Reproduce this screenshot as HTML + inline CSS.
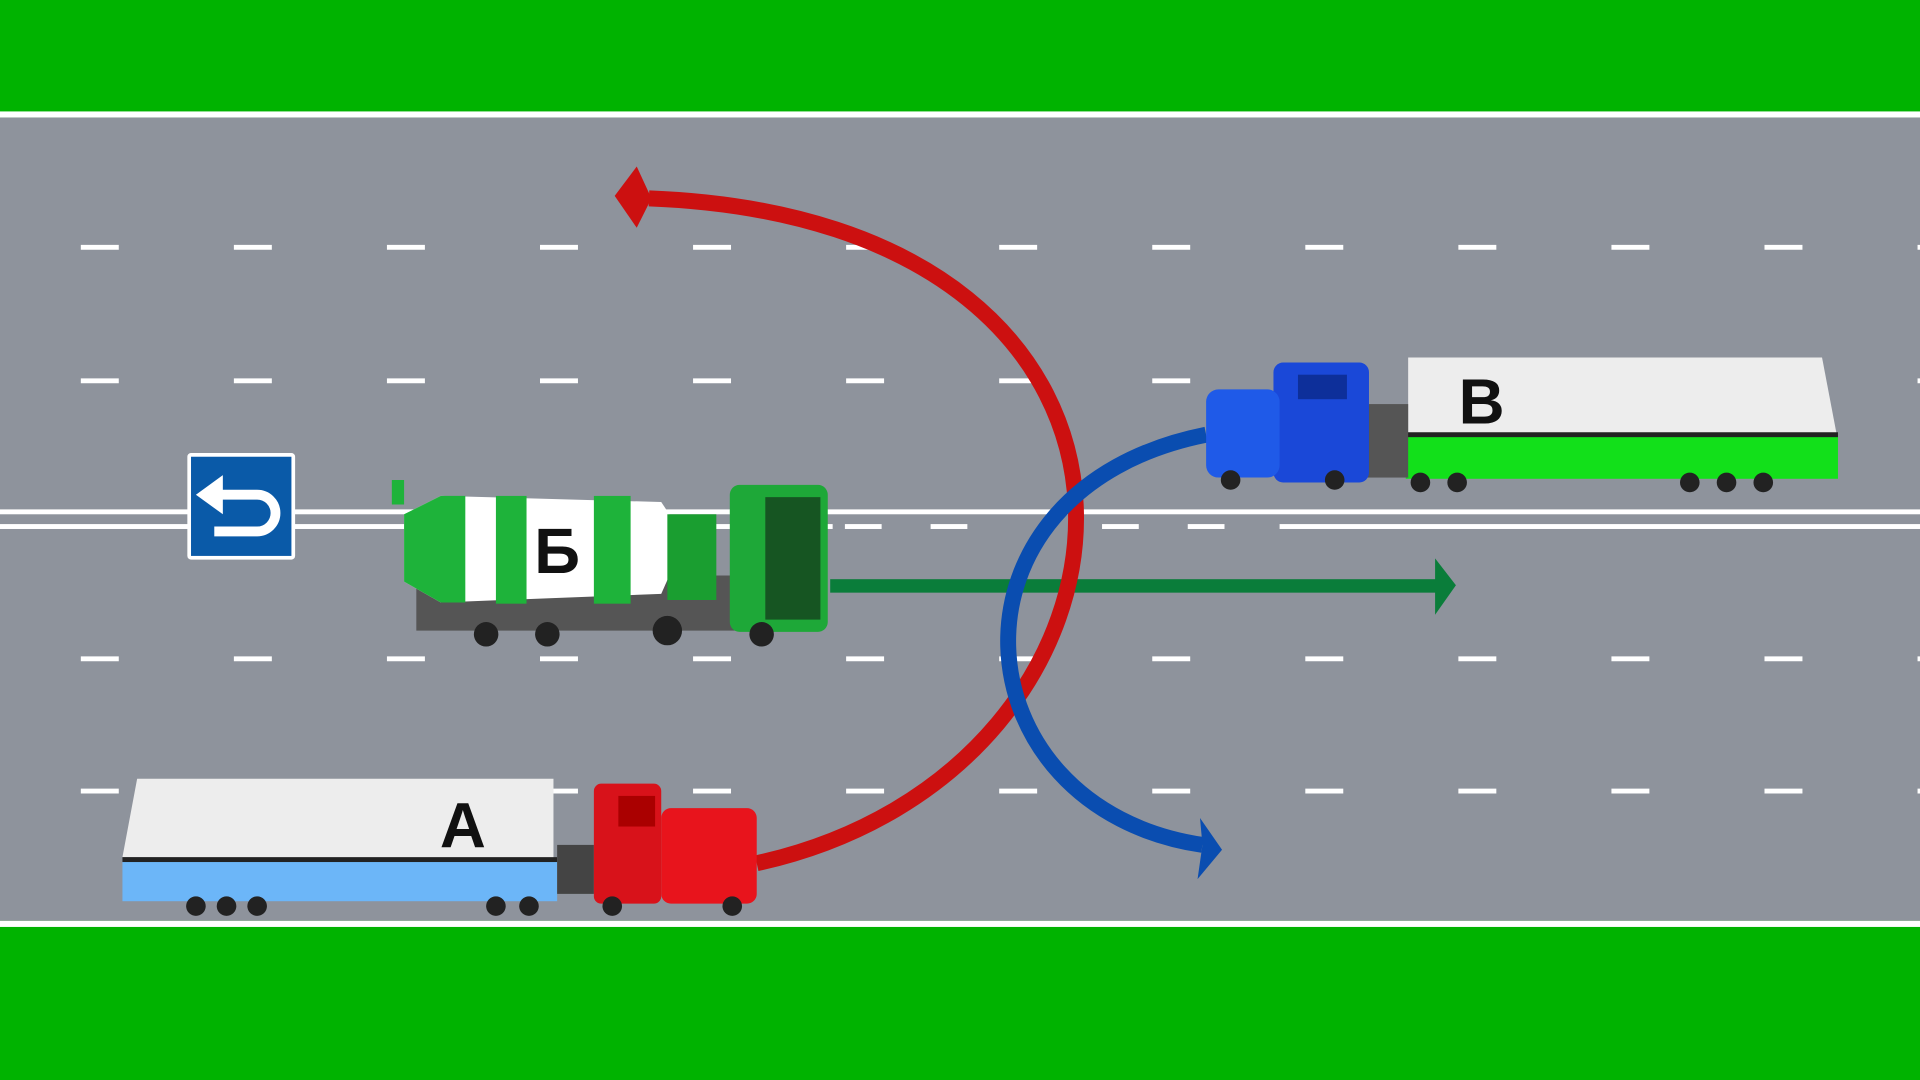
<!DOCTYPE html>
<html><head><meta charset="utf-8"><style>
html,body{margin:0;padding:0;width:1920px;height:1080px;overflow:hidden;background:#00b300}
svg{display:block}
text{font-family:"Liberation Sans Narrow","Liberation Sans","DejaVu Sans",sans-serif;font-weight:bold;font-stretch:condensed}
</style></head><body>
<svg width="1920" height="1080" viewBox="0 0 1568 882" preserveAspectRatio="none" xmlns="http://www.w3.org/2000/svg">
<rect width="1568" height="882" fill="#00b300"/>
<rect y="91" width="1568" height="5" fill="#fff"/>
<rect y="96" width="1568" height="656" fill="#8e939c"/>
<rect y="752" width="1568" height="5" fill="#fff"/>
<!-- dashed lane lines -->
<g stroke="#fff" stroke-width="4" stroke-dasharray="31 94">
<line x1="66" y1="202" x2="1568" y2="202"/>
<line x1="66" y1="311" x2="1568" y2="311"/>
<line x1="66" y1="538" x2="1568" y2="538"/>
<line x1="66" y1="646" x2="1568" y2="646"/>
</g>
<!-- center lines -->
<rect x="0" y="416" width="1568" height="4" fill="#fff"/>
<rect x="0" y="428" width="680" height="4" fill="#fff"/>
<rect x="1045" y="428" width="523" height="4" fill="#fff"/>
<g fill="#fff"><rect x="690" y="428" width="30" height="4"/><rect x="760" y="428" width="30" height="4"/><rect x="900" y="428" width="30" height="4"/><rect x="970" y="428" width="30" height="4"/></g>
<!-- sign -->
<rect x="153" y="370" width="88" height="87" rx="3" fill="#fff"/>
<rect x="156" y="373" width="82" height="81" fill="#0a5aa8"/>
<path d="M178,404 H210 A15,15 0 0 1 210,434 H175" fill="none" stroke="#fff" stroke-width="8"/>
<polygon points="160,404 182,388 182,420" fill="#fff"/>
<!-- green arrow -->
<rect x="678" y="473" width="498" height="11" fill="#0a7d3a"/>
<polygon points="1172,456 1189,478 1172,502" fill="#0a7d3a"/>
<!-- red arc -->
<path d="M618,705 C 960,630 1000,180 530,162" fill="none" stroke="#cc1010" stroke-width="13"/>
<polygon points="502,160 520,136 532,162 520,186" fill="#cc1010"/>
<!-- blue arc -->
<path d="M985,355 C 760,400 780,660 982,690" fill="none" stroke="#0a4db0" stroke-width="13"/>
<polygon points="998,694 980,668 982,690 978,718" fill="#0a4db0"/>
<!-- Truck A -->
<g>
<polygon points="100,700 112,636 452,636 452,702" fill="#ededed"/>
<rect x="100" y="702" width="355" height="34" fill="#6cb6f8"/>
<rect x="100" y="700" width="355" height="4" fill="#222"/>
<rect x="455" y="690" width="30" height="40" fill="#444"/>
<rect x="485" y="640" width="55" height="98" rx="6" fill="#d8121a"/>
<rect x="540" y="660" width="78" height="78" rx="8" fill="#e8141c"/>
<rect x="505" y="650" width="30" height="25" fill="#a00"/>
<g fill="#222"><circle cx="160" cy="740" r="8"/><circle cx="185" cy="740" r="8"/><circle cx="210" cy="740" r="8"/><circle cx="405" cy="740" r="8"/><circle cx="432" cy="740" r="8"/><circle cx="500" cy="740" r="8"/><circle cx="598" cy="740" r="8"/></g>
<text x="378" y="692" font-size="52" text-anchor="middle" fill="#111">А</text>
</g>
<!-- Truck Б -->
<g>
<rect x="340" y="470" width="300" height="45" fill="#555"/>
<path d="M330,420 L360,405 L540,410 L560,440 L540,485 L360,492 L330,475 Z" fill="#fff"/>
<path d="M330,420 L360,405 L380,405 L380,492 L360,492 L330,475 Z" fill="#1eb33a"/>
<rect x="405" y="405" width="25" height="88" fill="#1eb33a"/>
<rect x="485" y="405" width="30" height="88" fill="#1eb33a"/>
<rect x="545" y="420" width="40" height="70" fill="#1a9e30"/>
<rect x="596" y="396" width="80" height="120" rx="8" fill="#1ea838"/>
<rect x="625" y="406" width="45" height="100" fill="#111" opacity=".55"/>
<rect x="320" y="392" width="10" height="20" fill="#1eb33a"/>
<g fill="#222"><circle cx="397" cy="518" r="10"/><circle cx="447" cy="518" r="10"/><circle cx="545" cy="515" r="12"/><circle cx="622" cy="518" r="10"/></g>
<text x="455" y="468" font-size="52" text-anchor="middle" fill="#111">Б</text>
</g>
<!-- Truck В -->
<g>
<polygon points="1150,292 1488,292 1500,355 1150,355" fill="#ededed"/>
<rect x="1148" y="355" width="353" height="36" fill="#12e01a"/>
<rect x="1148" y="353" width="353" height="4" fill="#222"/>
<rect x="1115" y="330" width="35" height="60" fill="#555"/>
<rect x="1040" y="296" width="78" height="98" rx="8" fill="#1a48d8"/>
<rect x="985" y="318" width="60" height="72" rx="10" fill="#1f5ae8"/>
<rect x="1060" y="306" width="40" height="20" fill="#0d2f9a"/>
<g fill="#222"><circle cx="1005" cy="392" r="8"/><circle cx="1090" cy="392" r="8"/><circle cx="1160" cy="394" r="8"/><circle cx="1190" cy="394" r="8"/><circle cx="1380" cy="394" r="8"/><circle cx="1410" cy="394" r="8"/><circle cx="1440" cy="394" r="8"/></g>
<text x="1210" y="346" font-size="52" text-anchor="middle" fill="#111">В</text>
</g>
</svg>
</body></html>
